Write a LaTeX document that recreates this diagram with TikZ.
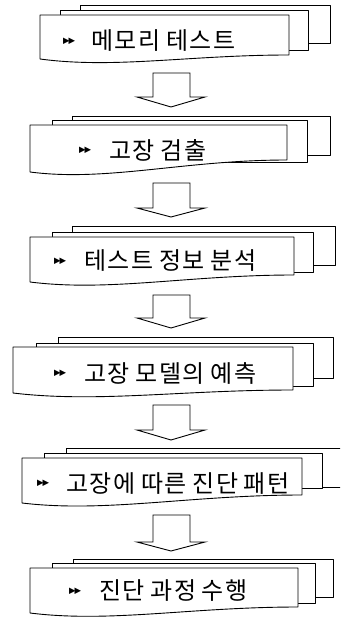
\documentclass[tikz,border=0pt]{standalone}
\usepackage{fontspec}
\setmainfont{Noto Sans CJK KR}[LetterSpace=6,WordSpace=0.85]
\newfontfamily\markfont{DejaVu Sans}
\tikzset{
  page/.style={draw=black, fill=white, line width=0.9pt, line join=round},
  blockarrow/.style={draw=black, fill=white, line width=0.9pt, line join=miter},
  steplabel/.style={anchor=west, inner sep=0pt, font=\fontsize{24}{24}\selectfont},
  stepmarker/.style={anchor=west, inner sep=0pt, font=\markfont\fontsize{8.5}{9}\selectfont},
}
% back page: L T R B
\newcommand\backpage[4]{\draw[page] (#1,#2) rectangle (#3,#4);}
% front page: L T R Bright Bleft (wavy bottom)
\newcommand\frontpage[5]{\draw[page] (#1,#2) -- (#3,#2) -- (#3,#4)
  .. controls +({-0.4*(#3-#1)},0) and +({0.3*(#3-#1)},10) .. (#1,#5) -- cycle;}
% block arrow: stem top, head line, tip
\newcommand\downarrowshape[3]{\draw[blockarrow] (153,#1) -- (190,#1) -- (190,#2) -- (205,#2)
  -- (171,#3) -- (137,#2) -- (153,#2) -- cycle;}
\newcommand\mk{▶\kern-1pt▶}
\begin{document}
\begin{tikzpicture}[x=1pt,y=-1pt]
\useasboundingbox (0,0) rectangle (340,617);
\clip (0,0) rectangle (340,617);
% block 1
\backpage{80}{5}{330}{43}
\backpage{60}{10}{308}{50}
\frontpage{40}{15}{289}{55}{59}
\node[stepmarker] (m1) at (63,41) {\mk};
\node[steplabel] (t1) at (91,41) {메모리 테스트};
\downarrowshape{73}{97}{107}
% block 2
\backpage{72}{116}{330}{155}
\backpage{52}{120}{307}{162}
\frontpage{30}{125}{287}{160}{172}
\node[stepmarker] (m2) at (79,150) {\mk};
\node[steplabel] (t2) at (109,150) {고장 검출};
\downarrowshape{183}{208}{217}
% block 3
\backpage{72}{226}{335}{265}
\backpage{52}{232}{313}{272}
\frontpage{30}{237}{294}{275}{282}
\node[stepmarker] (m3) at (54,261) {\mk};
\node[steplabel] (t3) at (84,261) {테스트 정보 분석};
\downarrowshape{295}{318}{328}
% block 4
\backpage{58}{337}{333}{378}
\backpage{36}{343}{313}{386}
\frontpage{13}{347}{293}{390}{393}
\node[stepmarker] (m4) at (54,373) {\mk};
\node[steplabel] (t4) at (84,373) {고장 모델의 예측};
\downarrowshape{405}{430}{440}
% block 5
\backpage{66}{448}{350}{487}
\backpage{44}{453}{322}{488}
\frontpage{22}{458}{302}{495}{503}
\node[stepmarker] (m5) at (37,483) {\mk};
\node[steplabel] (t5) at (66,483) {고장에 따른 진단 패턴};
\downarrowshape{515}{542}{551}
% block 6
\backpage{73}{559}{333}{597}
\backpage{52}{563}{315}{603}
\frontpage{30}{568}{298}{607}{613}
\node[stepmarker] (m6) at (69,591) {\mk};
\node[steplabel] (t6) at (99,591) {진단 과정 수행};
\end{tikzpicture}
\end{document}
